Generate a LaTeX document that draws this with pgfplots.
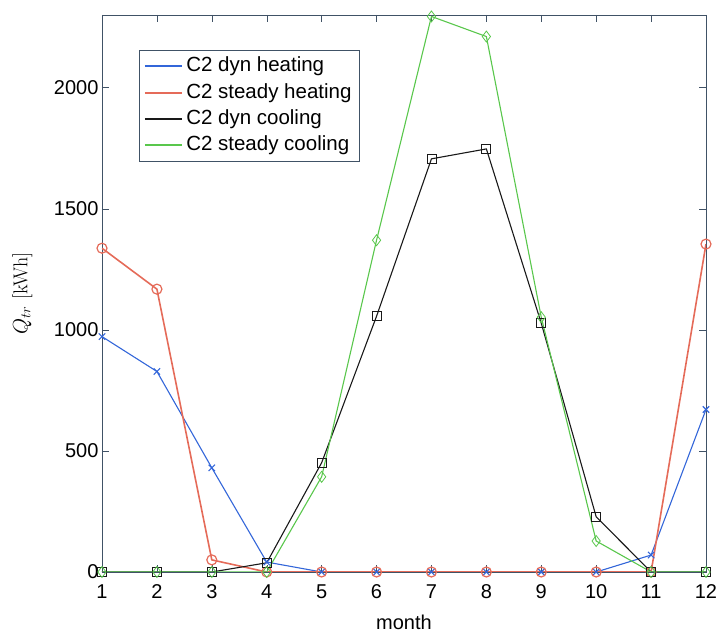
\documentclass[border=0pt]{standalone}
\usepackage{pgfplots}
\pgfplotsset{compat=1.18}
\usepackage{fontspec}
\setmainfont{Liberation Sans}
\definecolor{cblue}{rgb}{0.2,0.4,0.85}
\definecolor{cred}{rgb}{0.9,0.42,0.35}
\definecolor{cgreen}{rgb}{0.35,0.78,0.3}
\definecolor{cblack}{rgb}{0.1,0.1,0.1}
\definecolor{axgray}{rgb}{0.25,0.32,0.4}
\newcommand{\lgline}[1]{\tikz[baseline=-0.5ex]\draw[#1, line width=1.8pt] (0pt,0pt) -- (37pt,0pt);}
\begin{document}
\begin{tikzpicture}
\begin{axis}[
  scale only axis,
  width=604pt, height=557pt,
  xmin=1, xmax=12, ymin=0, ymax=2300,
  xtick={1,...,12},
  ytick={0,500,1000,1500,2000},
  tick align=inside,
  major tick length=7pt,
  axis line style={axgray},
  every tick/.style={axgray},
  font=\fontsize{20}{24}\selectfont,
  /pgf/number format/assume math mode=true,
  scaled y ticks=false,
  yticklabel style={/pgf/number format/1000 sep={}},
  xticklabel style={yshift=-9pt},
  xlabel={month},
  ylabel={\fontfamily{lmr}\selectfont $Q_{tr}$ [kWh]},
  xlabel style={at={(axis description cs:0.5,-0.09)}, anchor=center},
  ylabel style={at={(axis description cs:-0.132,0.5)}, anchor=center},
]
\addplot[cblue, line width=1.1pt, mark=x, mark size=4.5pt] coordinates {(1,972) (2,828) (3,430) (4,41) (5,0) (6,0) (7,0) (8,0) (9,0) (10,0) (11,70) (12,671)};
\addplot[cred, line width=1.6pt, mark=o, mark size=5pt, mark options={line width=1.2pt}] coordinates {(1,1337) (2,1168) (3,50) (4,0) (5,0) (6,0) (7,0) (8,0) (9,0) (10,0) (11,0) (12,1354)};
\addplot[cblack, line width=1.1pt, mark=square, mark size=4.5pt, mark options={line width=0.8pt}] coordinates {(1,0) (2,0) (3,0) (4,38) (5,451) (6,1056) (7,1706) (8,1747) (9,1027) (10,228) (11,0) (12,0)};
\addplot[cgreen, line width=1.1pt, mark=diamond, mark size=5.5pt, mark options={line width=0.8pt}] coordinates {(1,0) (2,0) (3,0) (4,0) (5,393) (6,1370) (7,2294) (8,2211) (9,1052) (10,128) (11,0) (12,0)};
\node[draw=axgray, fill=white, anchor=north west, inner xsep=5pt, inner ysep=3pt, font=\fontsize{20.5}{24.6}\selectfont]
  at (axis description cs:0.061,0.937) {%
  \renewcommand{\arraystretch}{1.07}%
  \begin{tabular}{@{}l@{\,}l@{\hspace{3pt}}}
  \lgline{cblue} & C2 dyn heating\\
  \lgline{cred} & C2 steady heating\\
  \lgline{cblack} & C2 dyn cooling\\
  \lgline{cgreen} & C2 steady cooling
  \end{tabular}};
\end{axis}
\pgfresetboundingbox
\useasboundingbox (-102pt,-62pt) rectangle (616pt,572pt);
\end{tikzpicture}
\end{document}
